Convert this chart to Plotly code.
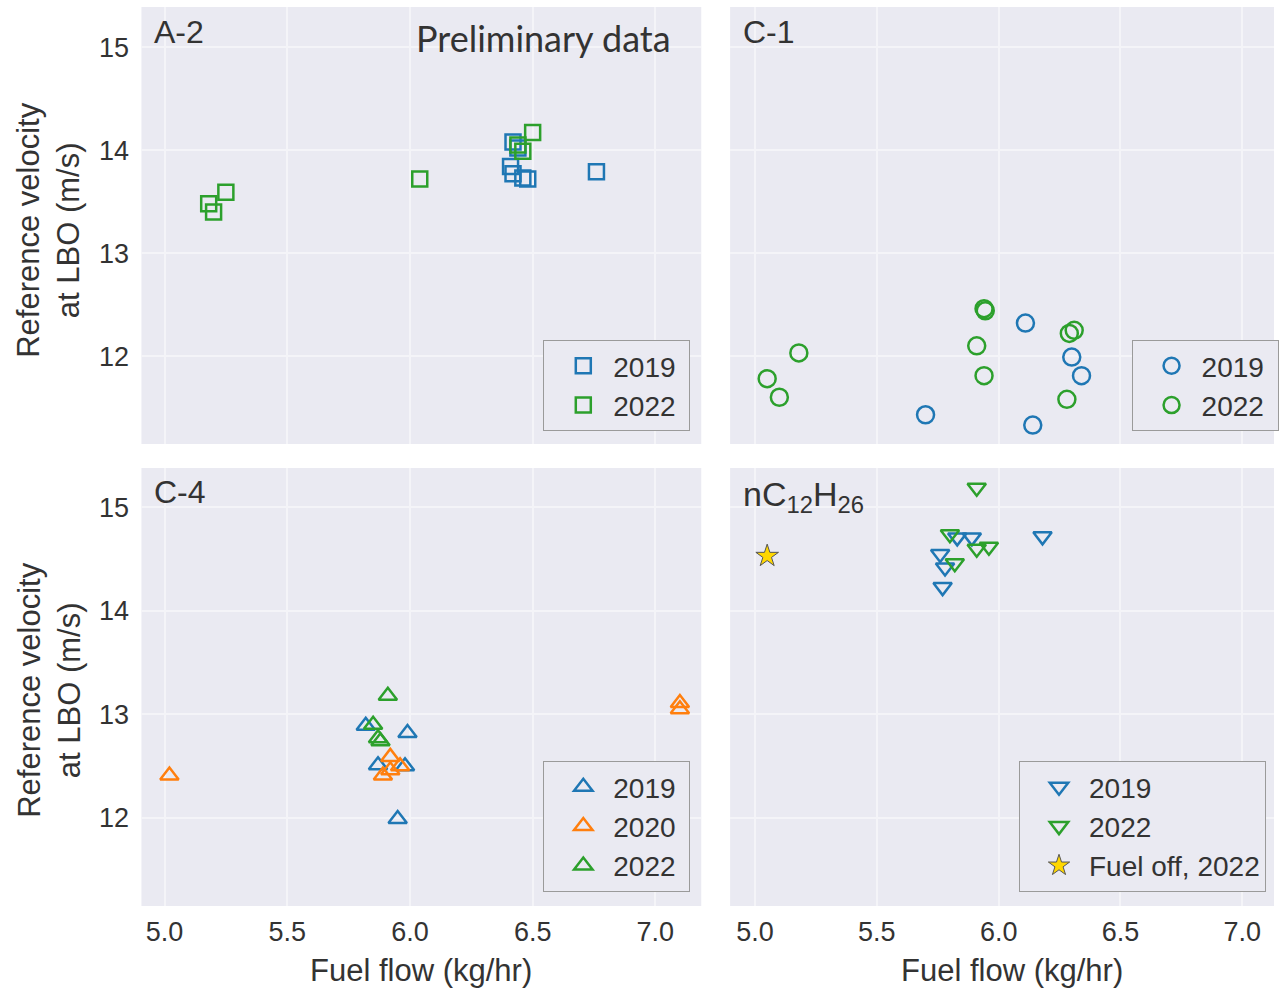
import plotly.graph_objects as go

# ---------------- data ----------------
a2_2019_x = [6.42, 6.44, 6.41, 6.42, 6.46, 6.48, 6.76]
a2_2019_y = [14.08, 14.02, 13.84, 13.77, 13.73, 13.72, 13.79]
a2_2022_x = [5.18, 5.20, 5.25, 6.04, 6.44, 6.46, 6.50]
a2_2022_y = [13.48, 13.40, 13.59, 13.72, 14.05, 13.99, 14.17]

c1_2019_x = [5.70, 6.11, 6.30, 6.34, 6.14]
c1_2019_y = [11.43, 12.32, 11.99, 11.81, 11.33]
c1_2022_x = [5.05, 5.10, 5.18, 5.94, 5.945, 5.91, 5.94, 6.29, 6.31, 6.28]
c1_2022_y = [11.78, 11.60, 12.03, 12.46, 12.44, 12.10, 11.81, 12.22, 12.25, 11.58]

c4_2019_x = [5.82, 5.99, 5.87, 5.98, 5.95]
c4_2019_y = [12.89, 12.82, 12.51, 12.50, 11.99]
c4_2020_x = [5.02, 5.92, 5.96, 5.89, 5.92, 7.10, 7.10]
c4_2020_y = [12.41, 12.59, 12.50, 12.41, 12.46, 13.11, 13.05]
c4_2022_x = [5.91, 5.85, 5.87, 5.88]
c4_2022_y = [13.18, 12.90, 12.77, 12.74]

nc_2019_x = [5.83, 5.89, 6.18, 5.76, 5.78, 5.77]
nc_2019_y = [14.71, 14.71, 14.72, 14.55, 14.42, 14.23]
nc_2022_x = [5.91, 5.80, 5.91, 5.96, 5.82]
nc_2022_y = [15.19, 14.74, 14.60, 14.62, 14.46]
nc_off_x = [5.05]
nc_off_y = [14.53]

x_ticks = [5.0, 5.5, 6.0, 6.5, 7.0]
x_ticklabels = ["5.0", "5.5", "6.0", "6.5", "7.0"]
y_ticks = [12, 13, 14, 15]

BLUE, ORANGE, GREEN = "#1f77b4", "#ff7f0e", "#2ca02c"
FONT = "Liberation Sans, Arial, sans-serif"
TXT = "#333333"
BG = "#EAEAF2"
GRID = "#F4F4F8"
NB = "\u00a0"

fig = go.Figure()

def add(x, y, name, symbol, color, xa, ya, leg, size=13, lw=2.5, fill=None):
    marker = dict(symbol=symbol, size=size, color=color if fill is None else fill,
                  line=dict(color=color, width=lw))
    fig.add_trace(go.Scatter(x=x, y=y, mode="markers", name=name, marker=marker,
                             xaxis=xa, yaxis=ya, legend=leg))

add(a2_2019_x, a2_2019_y, "2019" + NB, "square-open", BLUE, "x", "y", "legend", size=15)
add(a2_2022_x, a2_2022_y, "2022" + NB, "square-open", GREEN, "x", "y", "legend", size=15)

add(c1_2019_x, c1_2019_y, "2019" + NB, "circle-open", BLUE, "x2", "y2", "legend2", size=17)
add(c1_2022_x, c1_2022_y, "2022" + NB, "circle-open", GREEN, "x2", "y2", "legend2", size=17)

add(c4_2019_x, c4_2019_y, "2019" + NB, "triangle-up-open", BLUE, "x3", "y3", "legend3", size=16)
add(c4_2020_x, c4_2020_y, "2020" + NB, "triangle-up-open", ORANGE, "x3", "y3", "legend3", size=16)
add(c4_2022_x, c4_2022_y, "2022" + NB, "triangle-up-open", GREEN, "x3", "y3", "legend3", size=16)

add(nc_2019_x, nc_2019_y, "2019", "triangle-down-open", BLUE, "x4", "y4", "legend4", size=16)
add(nc_2022_x, nc_2022_y, "2022", "triangle-down-open", GREEN, "x4", "y4", "legend4", size=16)
add(nc_off_x, nc_off_y, "Fuel off, 2022", "star", "#555555", "x4", "y4", "legend4",
    size=17, lw=1, fill="#FFD700")

W, H = 1279, 992
dx_left = [142 / W, 704 / W]
dx_right = [733 / W, 1.0]
dy_top = [1 - 444 / H, 1 - 7 / H]
dy_bot = [1 - 906 / H, 1 - 468 / H]

def xax(domain, rng, anchor, labels):
    return dict(domain=domain, range=rng, anchor=anchor, tickvals=x_ticks,
                ticktext=x_ticklabels, showticklabels=labels, showgrid=True,
                gridcolor=GRID, gridwidth=2, zeroline=False, showline=False,
                ticks="outside", ticklen=2, tickcolor="rgba(0,0,0,0)",
                tickfont=dict(family=FONT, size=27, color=TXT))

def yax(domain, rng, anchor, labels):
    return dict(domain=domain, range=rng, anchor=anchor, tickvals=y_ticks,
                showticklabels=labels, showgrid=True, gridcolor=GRID,
                gridwidth=2, zeroline=False, showline=False,
                ticks="outside", ticklen=6, tickcolor="rgba(0,0,0,0)",
                tickfont=dict(family=FONT, size=27, color=TXT))

lx_rng = [4.906, 7.187]
rx_rng = [4.898, 7.13]
ty_rng = [11.146, 15.39]
by_rng = [11.15, 15.38]

def legend(x, y, xanchor):
    return dict(x=x, y=y, xanchor=xanchor, yanchor="bottom", bgcolor=BG,
                bordercolor="#9a9a9a", borderwidth=1,
                font=dict(family=FONT, size=28, color=TXT),
                itemsizing="trace", tracegroupgap=0, indentation=9, itemwidth=50)

fig.update_layout(
    width=W, height=H,
    margin=dict(l=0, r=0, t=0, b=0),
    paper_bgcolor="white", plot_bgcolor=BG,
    xaxis=xax(dx_left, lx_rng, "y", False),
    yaxis=yax(dy_top, ty_rng, "x", True),
    xaxis2=xax(dx_right, rx_rng, "y2", False),
    yaxis2=yax(dy_top, ty_rng, "x2", False),
    xaxis3=xax(dx_left, lx_rng, "y3", True),
    yaxis3=yax(dy_bot, by_rng, "x3", True),
    xaxis4=xax(dx_right, rx_rng, "y4", True),
    yaxis4=yax(dy_bot, by_rng, "x4", False),
    legend=legend(693 / W, 1 - 431 / H, "right"),
    legend2=legend(1136 / W, 1 - 431 / H, "left"),
    legend3=legend(693 / W, 1 - 892 / H, "right"),
    legend4=legend(1023 / W, 1 - 892 / H, "left"),
    showlegend=True,
)

ann = []
def label(text, x, y, size=27, family=FONT, angle=0, xanchor="center", yanchor="middle"):
    ann.append(dict(text=text, x=x / W, y=1 - y / H, xref="paper", yref="paper",
                    showarrow=False, textangle=angle, xanchor=xanchor, yanchor=yanchor,
                    font=dict(family=family, size=size, color=TXT)))

label("A-2", 153, 32, size=32, xanchor="left")
label("C-1", 744, 32, size=32, xanchor="left")
label("C-4", 153, 492, size=32, xanchor="left")
label("nC<sub>12</sub>H<sub>26</sub>", 744, 496, size=34, xanchor="left")
label("Preliminary data", 546, 38, size=36, family="Lato, Open Sans, sans-serif")
label("Reference velocity<br>at LBO (m/s)", 49, 230, size=31, angle=-90)
label("Reference velocity<br>at LBO (m/s)", 49, 690, size=31, angle=-90)
label("Fuel flow (kg/hr)", 423, 970, size=31)
label("Fuel flow (kg/hr)", 1016, 970, size=31)
fig.update_layout(annotations=ann)

fig.write_html("out.html", config={"displayModeBar": False},
               post_script="document.body.style.margin='0px';"
                           "document.body.style.overflow='hidden';"
                           "document.documentElement.style.overflow='hidden';")
